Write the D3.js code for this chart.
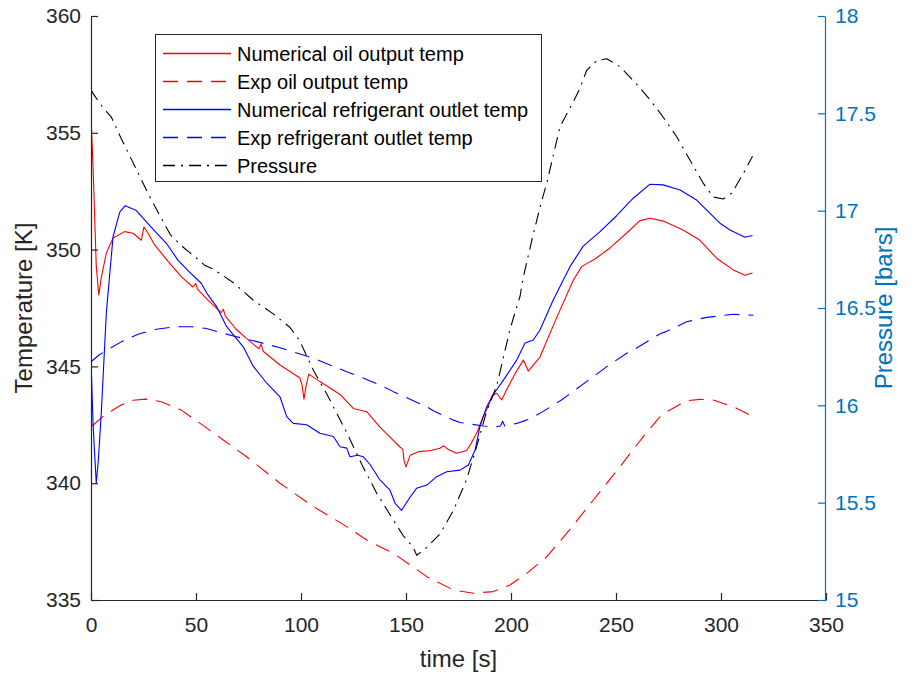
<!DOCTYPE html>
<html>
<head>
<meta charset="utf-8">
<script src="https://cdn.jsdelivr.net/npm/d3@7"></script>
<style>
  body { margin: 0; background: #fff; }
  svg { font-family: "Liberation Sans", Arial, sans-serif; }
</style>
</head>
<body>
<div id="chart"></div>
<script>
// series: [time s, value]
var oilNum = [[0,355.7],[1,353.5],[2.5,349.3],[3.7,348.06],[4.9,348.8],[7.3,349.85],[10.5,350.5],[16,350.77],[20,350.7],[24,350.4],[25.2,350.97],[27.2,350.7],[30.3,350.2],[36.7,349.5],[43,348.84],[48.5,348.4],[49.8,348.55],[50.8,348.3],[55.7,347.84],[62,347.3],[63,347.45],[64,347.15],[69,346.6],[74,346.2],[80,345.75],[81,345.95],[82,345.65],[90,345.06],[99.5,344.5],[100.5,344.2],[101.4,343.6],[102.5,344.2],[103.7,344.67],[109,344.35],[118.6,343.8],[124.9,343.2],[131.3,343.06],[137.6,342.4],[142,342.0],[147,341.56],[148.5,341.45],[149,341.0],[150,340.7],[152,341.2],[155.9,341.35],[162,341.4],[166,341.5],[168,341.6],[170,341.45],[174,341.28],[178.9,341.4],[181,341.7],[183.7,342.15],[186.5,342.8],[189.2,343.3],[191,343.75],[193.2,343.85],[195.6,343.56],[197.9,344],[202,344.7],[205.9,345.27],[208.2,344.8],[213.8,345.4],[221.8,347.1],[229.7,348.7],[233.7,349.27],[236,349.4],[240,349.6],[247,350.06],[255,350.7],[261.4,351.24],[266.2,351.34],[272.5,351.22],[282,350.84],[290,350.4],[297.9,349.63],[305.9,349.13],[311.4,348.9],[315,349.0]];
var oilExp = [[0.5,342.45],[6.5,342.92],[14.4,343.35],[20,343.55],[26,343.6],[33.5,343.49],[43,343.13],[52,342.56],[63,341.85],[74.1,341.13],[90,340.0],[105.9,339.0],[121.8,338.14],[131.3,337.57],[137.6,337.28],[144,337.0],[159.9,336.0],[172.6,335.43],[182,335.29],[191.6,335.36],[199.5,335.64],[207.5,336.14],[217,336.85],[226.5,337.85],[239.2,339.28],[251.9,340.7],[258.2,341.45],[263,341.99],[271,342.85],[274.1,343.06],[283.6,343.53],[290,343.59],[296.3,343.56],[305.9,343.27],[315.4,342.85]];
var refNum = [[0,345.27],[1,342.5],[2.5,340.0],[3.5,341],[4.9,343],[7.3,347.3],[10.5,350.55],[13.7,351.6],[16.3,351.88],[21.6,351.67],[26.3,351.2],[30.3,350.8],[35.9,350.27],[41.4,349.55],[46.2,349.1],[52.5,348.56],[55.7,348.06],[59.8,347.56],[64.6,346.7],[72.5,345.84],[77.3,345.0],[83.7,344.28],[90,343.7],[93.2,342.85],[96.3,342.56],[102.7,342.5],[109,342.14],[115.4,342.0],[118.6,341.56],[121.8,341.5],[123.3,341.13],[127,341.2],[129.7,341.13],[132.9,340.8],[137.6,340.14],[142.4,339.7],[144.8,339.14],[147.9,338.84],[151.9,339.4],[155,339.78],[159.9,339.92],[164.6,340.28],[169.4,340.49],[175.7,340.56],[179.7,340.78],[182.9,341.42],[185.2,342.42],[188.4,343.27],[192,343.85],[196.3,344.4],[202.7,345.27],[206.7,346.0],[210.6,346.13],[213.8,346.56],[220.1,347.84],[228.1,349.27],[234.4,350.15],[242.4,350.77],[250.3,351.45],[258.2,352.2],[266.2,352.8],[272.5,352.77],[280.5,352.55],[288.4,352.12],[294.8,351.55],[299.5,351.13],[304.3,350.84],[311.4,350.53],[315,350.6]];
var refExp = [[0,345.2],[4,345.5],[8.1,345.72],[14.4,346.05],[22.4,346.38],[30.3,346.58],[40,346.7],[48,346.7],[55,346.62],[67.8,346.3],[77.3,346.1],[90,345.8],[105.9,345.35],[121.8,344.77],[128,344.56],[137.6,344.2],[144,343.92],[159.9,343.27],[163,343.1],[172.6,342.7],[175.7,342.6],[186.8,342.45],[193.2,342.42],[195,342.45],[196,342.65],[197,342.45],[202.7,342.56],[207.4,342.7],[213.8,342.99],[224,343.56],[239.2,344.56],[245.6,344.99],[255.1,345.56],[258.2,345.7],[271,346.4],[274.1,346.5],[283.6,346.91],[293.2,347.1],[305.9,347.23],[315.4,347.19]];
var pressure = [[0,17.62],[1.1,17.6],[5,17.54],[9.7,17.48],[14.4,17.37],[20.8,17.23],[27.1,17.09],[33.5,16.96],[37.6,16.88],[43,16.82],[48.7,16.77],[54.1,16.72],[58.2,16.70],[67.8,16.63],[77.3,16.54],[86.8,16.47],[94.8,16.40],[99.5,16.33],[102,16.27],[105.9,16.18],[112.2,16.06],[117,15.96],[121.8,15.86],[129.7,15.68],[136,15.55],[144,15.41],[148.7,15.33],[153.5,15.27],[155.1,15.23],[159.9,15.27],[166.2,15.34],[172.6,15.46],[178.9,15.62],[183.7,15.79],[188.4,15.97],[193.2,16.10],[199.5,16.39],[204.3,16.56],[205.9,16.66],[210.6,16.88],[214.6,17.05],[217,17.14],[223.3,17.43],[229.7,17.56],[232.9,17.63],[236,17.72],[240.8,17.77],[245.6,17.78],[251.9,17.74],[259.8,17.65],[266.2,17.57],[272.5,17.48],[278.9,17.38],[285.2,17.26],[291.6,17.14],[296.3,17.07],[301.1,17.06],[305.1,17.09],[310.6,17.19],[315,17.28]];

var xTicks = [0, 50, 100, 150, 200, 250, 300, 350];
var tempTicks = [335, 340, 345, 350, 355, 360];
var presTicks = [15, 15.5, 16, 16.5, 17, 17.5, 18];
var legendNames = ["Numerical oil output temp", "Exp oil output temp", "Numerical refrigerant outlet temp", "Exp refrigerant outlet temp", "Pressure"];

var width = 921, height = 676;
var mLeft = 91, mRight = 826, mTop = 16, mBottom = 600;
var axisGrey = '#262626';
var presBlue = '#0072BD';

var svg = d3.select('#chart').append('svg')
  .attr('width', width)
  .attr('height', height);

var x = d3.scaleLinear().domain([0, 350]).range([mLeft, mRight]);
var yT = d3.scaleLinear().domain([335, 360]).range([mBottom, mTop]);
var yP = d3.scaleLinear().domain([15, 18]).range([mBottom, mTop]);

svg.append('clipPath').attr('id', 'clip')
  .append('rect').attr('x', mLeft).attr('y', mTop).attr('width', mRight - mLeft).attr('height', mBottom - mTop);

var lineT = d3.line().x(function(d) { return x(d[0]); }).y(function(d) { return yT(d[1]); });
var lineP = d3.line().x(function(d) { return x(d[0]); }).y(function(d) { return yP(d[1]); });

var series = [
  {data: oilNum, line: lineT, color: '#ff0000', dash: null},
  {data: oilExp, line: lineT, color: '#ff0000', dash: '15,9'},
  {data: refNum, line: lineT, color: '#0000ff', dash: null},
  {data: refExp, line: lineT, color: '#0000ff', dash: '15,9'},
  {data: pressure, line: lineP, color: '#000000', dash: '12,6,2,6'}
];

var plot = svg.append('g').attr('clip-path', 'url(#clip)');
series.forEach(function(s) {
  plot.append('path')
    .attr('d', s.line(s.data))
    .attr('fill', 'none')
    .attr('stroke', s.color)
    .attr('stroke-width', 1.1)
    .attr('stroke-linejoin', 'round')
    .attr('stroke-dasharray', s.dash);
});

// axes (matlab style, ticks pointing in)
var xAxis = svg.append('g')
  .attr('transform', 'translate(0,' + mBottom + ')')
  .call(d3.axisBottom(x).tickValues(xTicks).tickSizeInner(-7).tickSizeOuter(0).tickPadding(17));
var yAxisL = svg.append('g')
  .attr('transform', 'translate(' + mLeft + ',0)')
  .call(d3.axisLeft(yT).tickValues(tempTicks).tickSizeInner(-7).tickSizeOuter(0).tickPadding(10));
var yAxisR = svg.append('g')
  .attr('transform', 'translate(' + (mRight - 1) + ',0)')
  .call(d3.axisRight(yP).tickValues(presTicks).tickFormat(d3.format('')).tickSizeInner(-7).tickSizeOuter(0).tickPadding(10));

[xAxis, yAxisL].forEach(function(g) {
  g.selectAll('path, line').attr('stroke', axisGrey).attr('stroke-width', 1.2);
  g.selectAll('text').attr('fill', axisGrey).style('font-size', '21px').style('font-family', '"Liberation Sans", Arial, sans-serif');
});
yAxisR.selectAll('path, line').attr('stroke', presBlue).attr('stroke-width', 1.2);
yAxisR.selectAll('text').attr('fill', presBlue).style('font-size', '21px').style('font-family', '"Liberation Sans", Arial, sans-serif');

// axis titles
svg.append('text')
  .attr('x', (mLeft + mRight) / 2)
  .attr('y', 667)
  .attr('text-anchor', 'middle')
  .attr('fill', axisGrey)
  .style('font-size', '24px')
  .text('time [s]');
svg.append('text')
  .attr('transform', 'translate(32,' + ((mTop + mBottom) / 2) + ') rotate(-90)')
  .attr('text-anchor', 'middle')
  .attr('fill', axisGrey)
  .style('font-size', '24px')
  .text('Temperature [K]');
svg.append('text')
  .attr('transform', 'translate(892,' + ((mTop + mBottom) / 2) + ') rotate(-90)')
  .attr('text-anchor', 'middle')
  .attr('fill', presBlue)
  .style('font-size', '24px')
  .text('Pressure [bars]');

// legend
var legend = svg.append('g');
legend.append('rect')
  .attr('x', 155.5).attr('y', 34.5).attr('width', 386).attr('height', 147)
  .attr('fill', '#fff').attr('stroke', axisGrey).attr('stroke-width', 1);
var rowY = d3.scaleLinear().domain([0, 4]).range([53.5, 165.5]);
series.forEach(function(s, i) {
  legend.append('path')
    .attr('d', 'M163,' + rowY(i) + 'H231')
    .attr('fill', 'none')
    .style('stroke', s.color)
    .style('stroke-width', '1.3px')
    .attr('stroke-dasharray', s.dash);
  legend.append('text')
    .attr('x', 237).attr('y', rowY(i)).attr('dy', '0.36em')
    .attr('fill', '#000')
    .style('font-size', '20px')
    .text(legendNames[i]);
});
</script>
</body>
</html>
